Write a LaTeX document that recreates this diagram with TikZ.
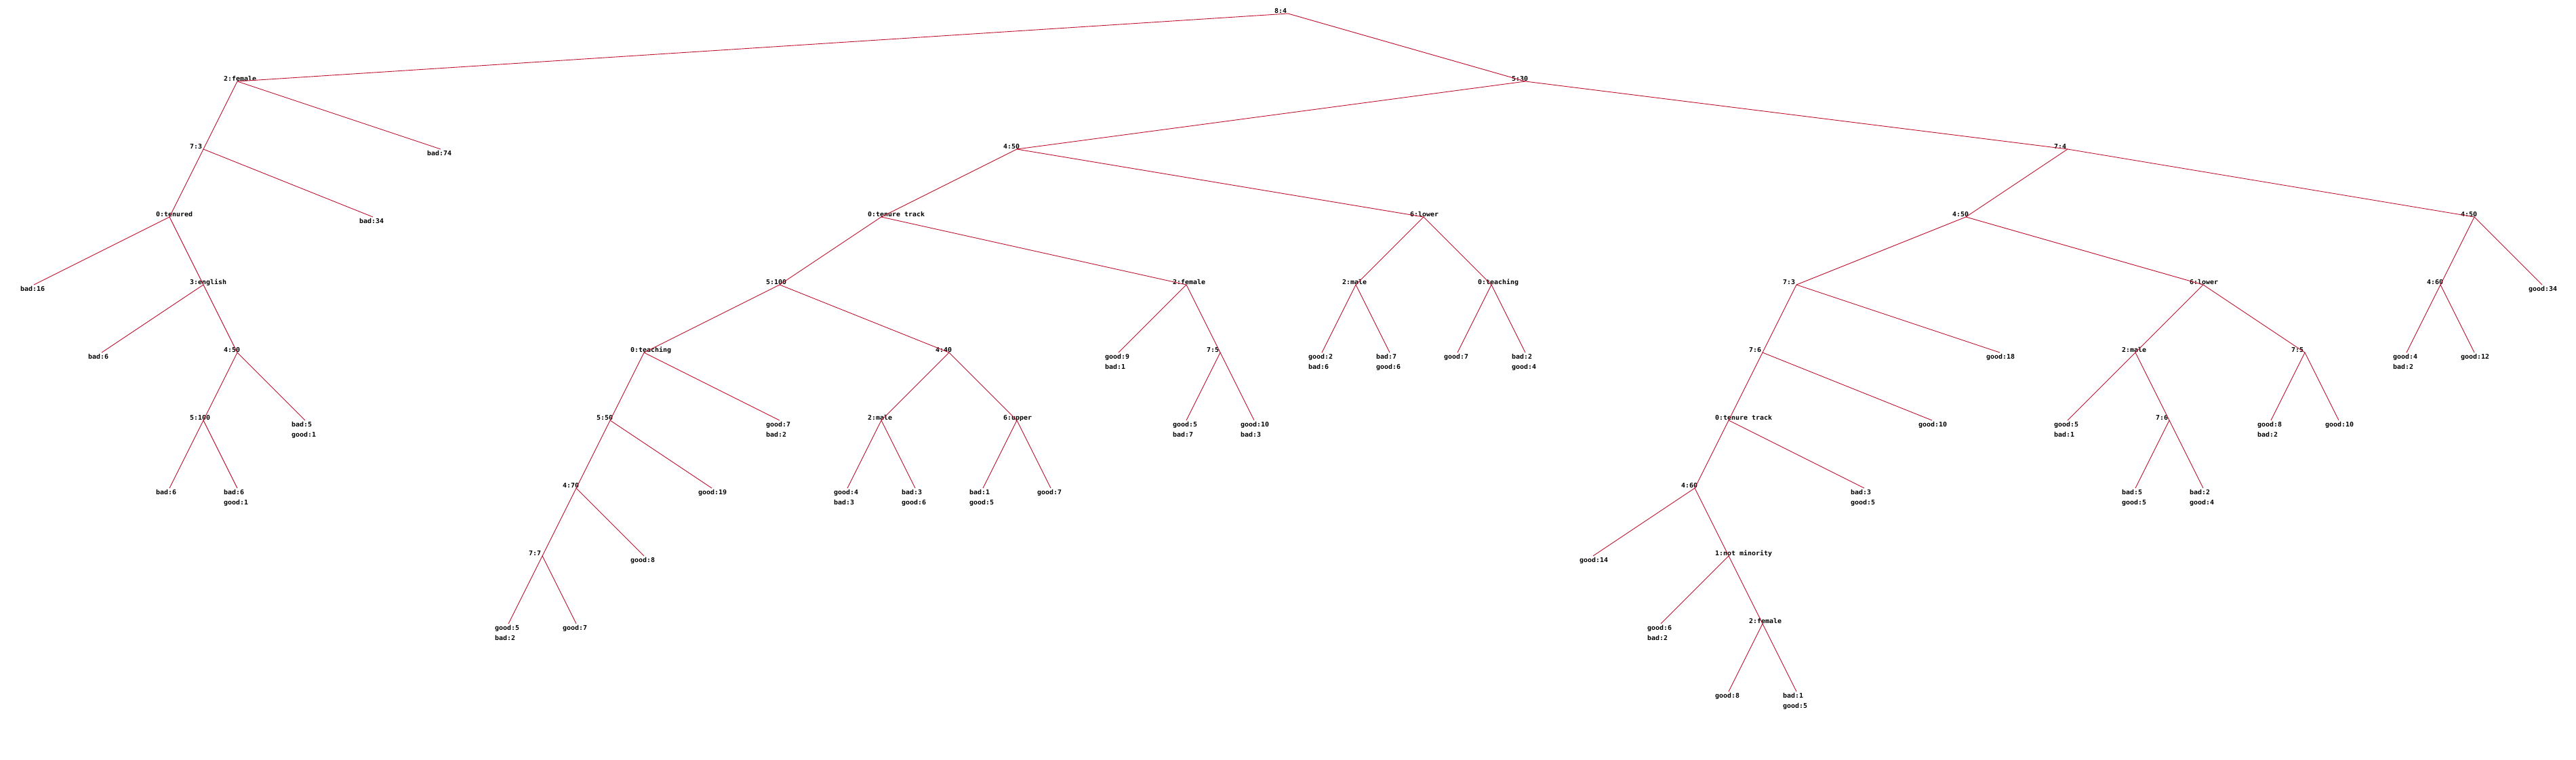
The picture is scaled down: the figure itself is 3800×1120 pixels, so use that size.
\documentclass[tikz,border=0pt]{standalone}
\usepackage{fontspec}
\newfontfamily\pilfont{DejaVu Sans Mono}[FakeStretch=1.05]
\definecolor{edgered}{RGB}{190,15,45}
\tikzset{
  lab/.style={anchor=base west,inner sep=0pt,outer sep=0pt,font=\pilfont\bfseries\fontsize{9.5}{15}\selectfont},
  edge/.style={draw=edgered,line width=0.9pt}
}
\newcommand\inode[4]{\coordinate (#1) at (#2,#3); \node[lab] (#1t) at (#2-20,#3-1) {#4};}
\newcommand\leafa[4]{\coordinate (#1) at (#2,#3); \node[lab] (#1t) at (#2-20,#3+9) {#4};}
\newcommand\leafb[5]{\coordinate (#1) at (#2,#3); \node[lab] (#1t) at (#2-20,#3+9) {\vtop{\baselineskip=15pt\hbox{#4}\hbox{#5}}};}
\begin{document}
\begin{tikzpicture}[x=1pt,y=-1pt]
\fill[white] (0,0) rectangle (3800,1120);
\useasboundingbox (0,0) rectangle (3800,1120);
% internal nodes
\inode{r}{1900}{20}{8:4}
\inode{a}{350}{120}{2:female}
\inode{aa}{300}{220}{7:3}
\inode{aaa}{250}{320}{0:tenured}
\inode{aaab}{300}{420}{3:english}
\inode{aaabb}{350}{520}{4:50}
\inode{aaabba}{300}{620}{5:100}
\inode{b}{2250}{120}{5:30}
\inode{ba}{1500}{220}{4:50}
\inode{baa}{1300}{320}{0:tenure track}
\inode{baaa}{1150}{420}{5:100}
\inode{baaaa}{950}{520}{0:teaching}
\inode{baaaaa}{900}{620}{5:50}
\inode{baaaaaa}{850}{720}{4:70}
\inode{baaaaaaa}{800}{820}{7:7}
\inode{baaab}{1400}{520}{4:40}
\inode{baaaba}{1300}{620}{2:male}
\inode{baaabb}{1500}{620}{6:upper}
\inode{baab}{1750}{420}{2:female}
\inode{baabb}{1800}{520}{7:5}
\inode{bab}{2100}{320}{6:lower}
\inode{baba}{2000}{420}{2:male}
\inode{babb}{2200}{420}{0:teaching}
\inode{bb}{3050}{220}{7:4}
\inode{bba}{2900}{320}{4:50}
\inode{bbaa}{2650}{420}{7:3}
\inode{bbaaa}{2600}{520}{7:6}
\inode{bbaaaa}{2550}{620}{0:tenure track}
\inode{bbaaaaa}{2500}{720}{4:60}
\inode{bbaaaaab}{2550}{820}{1:not minority}
\inode{bbaaaaabb}{2600}{920}{2:female}
\inode{bbab}{3250}{420}{6:lower}
\inode{bbaba}{3150}{520}{2:male}
\inode{bbabab}{3200}{620}{7:6}
\inode{bbabb}{3400}{520}{7:5}
\inode{bbb}{3650}{320}{4:50}
\inode{bbba}{3600}{420}{4:60}
% leaves
\leafa{ab}{650}{220}{bad:74}
\leafa{aab}{550}{320}{bad:34}
\leafa{aaaa}{50}{420}{bad:16}
\leafa{aaaba}{150}{520}{bad:6}
\leafb{aaabbb}{450}{620}{bad:5}{good:1}
\leafa{aaabbaa}{250}{720}{bad:6}
\leafb{aaabbab}{350}{720}{bad:6}{good:1}
\leafb{baaaab}{1150}{620}{good:7}{bad:2}
\leafa{baaaaab}{1050}{720}{good:19}
\leafa{baaaaaab}{950}{820}{good:8}
\leafb{baaaaaaaa}{750}{920}{good:5}{bad:2}
\leafa{baaaaaaab}{850}{920}{good:7}
\leafb{baaabaa}{1250}{720}{good:4}{bad:3}
\leafb{baaabab}{1350}{720}{bad:3}{good:6}
\leafb{baaabba}{1450}{720}{bad:1}{good:5}
\leafa{baaabbb}{1550}{720}{good:7}
\leafb{baaba}{1650}{520}{good:9}{bad:1}
\leafb{baabba}{1750}{620}{good:5}{bad:7}
\leafb{baabbb}{1850}{620}{good:10}{bad:3}
\leafb{babaa}{1950}{520}{good:2}{bad:6}
\leafb{babab}{2050}{520}{bad:7}{good:6}
\leafa{babba}{2150}{520}{good:7}
\leafb{babbb}{2250}{520}{bad:2}{good:4}
\leafa{bbaab}{2950}{520}{good:18}
\leafa{bbaaab}{2850}{620}{good:10}
\leafb{bbaaaab}{2750}{720}{bad:3}{good:5}
\leafa{bbaaaaaa}{2350}{820}{good:14}
\leafb{bbaaaaaba}{2450}{920}{good:6}{bad:2}
\leafa{bbaaaaabba}{2550}{1020}{good:8}
\leafb{bbaaaaabbb}{2650}{1020}{bad:1}{good:5}
\leafb{bbabaa}{3050}{620}{good:5}{bad:1}
\leafb{bbababa}{3150}{720}{bad:5}{good:5}
\leafb{bbababb}{3250}{720}{bad:2}{good:4}
\leafb{bbabba}{3350}{620}{good:8}{bad:2}
\leafa{bbabbb}{3450}{620}{good:10}
\leafb{bbbaa}{3550}{520}{good:4}{bad:2}
\leafa{bbbab}{3650}{520}{good:12}
\leafa{bbbb}{3750}{420}{good:34}
% connectors
\foreach \p/\c in {r/a, r/b, a/aa, a/ab, aa/aaa, aa/aab, aaa/aaaa, aaa/aaab,
  aaab/aaaba, aaab/aaabb, aaabb/aaabba, aaabb/aaabbb, aaabba/aaabbaa, aaabba/aaabbab,
  b/ba, b/bb, ba/baa, ba/bab, baa/baaa, baa/baab, baaa/baaaa, baaa/baaab,
  baaaa/baaaaa, baaaa/baaaab, baaaaa/baaaaaa, baaaaa/baaaaab, baaaaaa/baaaaaaa,
  baaaaaa/baaaaaab, baaaaaaa/baaaaaaaa, baaaaaaa/baaaaaaab, baaab/baaaba, baaab/baaabb,
  baaaba/baaabaa, baaaba/baaabab, baaabb/baaabba, baaabb/baaabbb, baab/baaba, baab/baabb,
  baabb/baabba, baabb/baabbb, bab/baba, bab/babb, baba/babaa, baba/babab, babb/babba, babb/babbb,
  bb/bba, bb/bbb, bba/bbaa, bba/bbab, bbaa/bbaaa, bbaa/bbaab, bbaaa/bbaaaa, bbaaa/bbaaab,
  bbaaaa/bbaaaaa, bbaaaa/bbaaaab, bbaaaaa/bbaaaaaa, bbaaaaa/bbaaaaab,
  bbaaaaab/bbaaaaaba, bbaaaaab/bbaaaaabb, bbaaaaabb/bbaaaaabba, bbaaaaabb/bbaaaaabbb,
  bbab/bbaba, bbab/bbabb, bbaba/bbabaa, bbaba/bbabab, bbabab/bbababa, bbabab/bbababb,
  bbabb/bbabba, bbabb/bbabbb, bbb/bbba, bbb/bbbb, bbba/bbbaa, bbba/bbbab}
  {\draw[edge] (\p) -- (\c);}
\end{tikzpicture}
\end{document}
